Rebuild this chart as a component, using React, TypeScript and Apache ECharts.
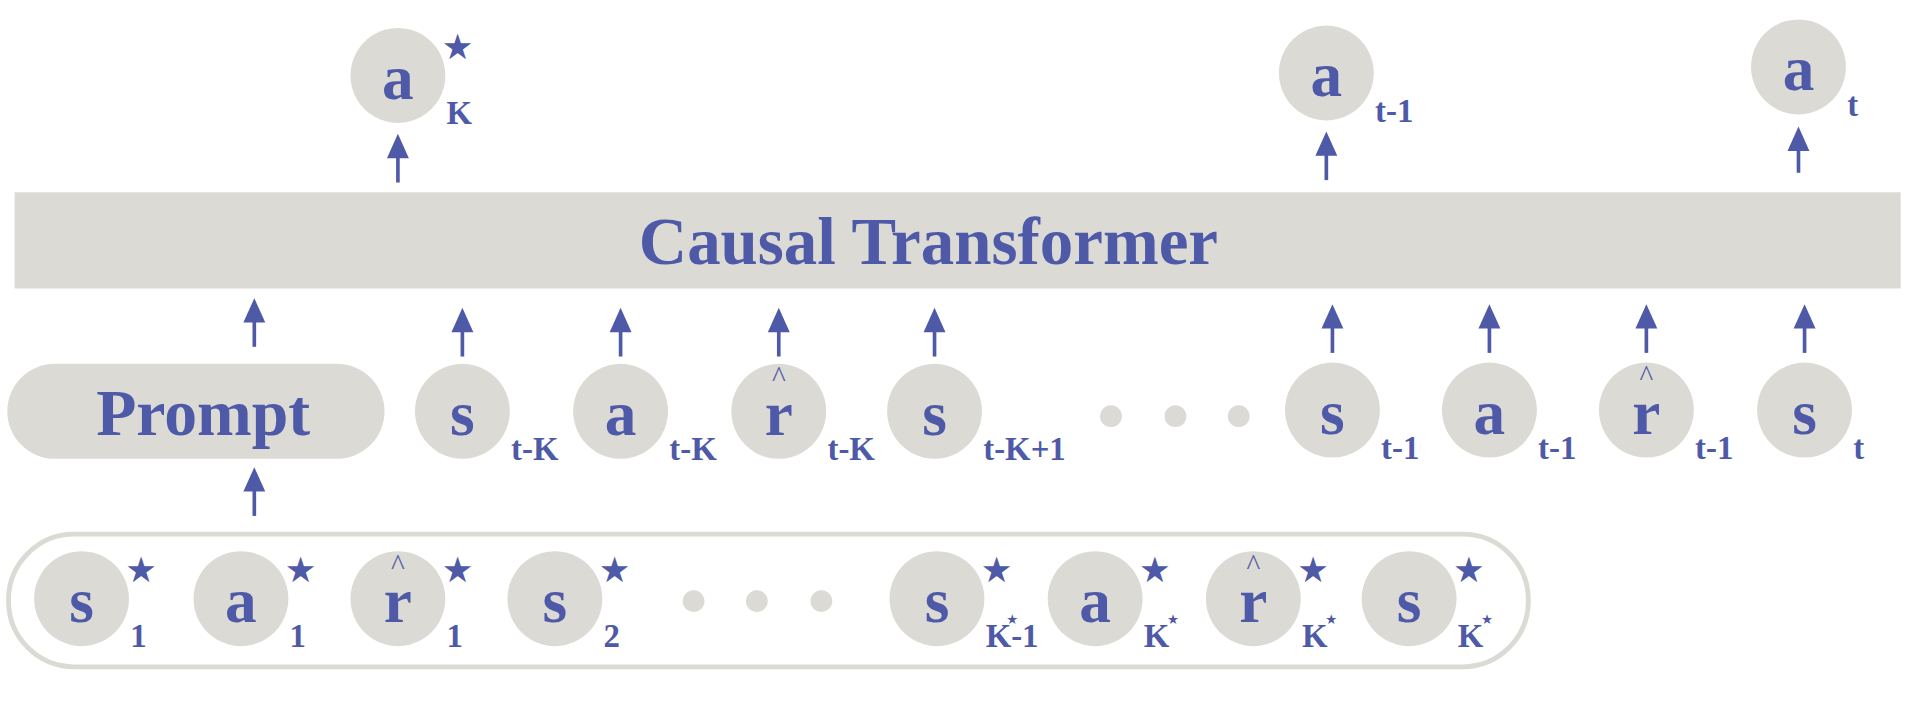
import React, { useEffect, useRef } from "react";
import * as echarts from "echarts";

const S = 1908 / 1568;
const BLUE = "#4e5aa8";
const GREY = "#dcdad4";
const FONT = "'Liberation Serif', 'Times New Roman', serif";

// tokens: [letter, subscript, x, y, star, subStar]
const outputTokens: [string, string, number, number, boolean, boolean][] = [
  ["a", "K", 327, 62, true, false],
  ["a", "t-1", 1090, 60, false, false],
  ["a", "t", 1478, 55, false, false],
];
const middleTokens: [string, string, number, number, boolean, boolean][] = [
  ["s", "t-K", 380, 338, false, false],
  ["a", "t-K", 510, 338, false, false],
  ["r", "t-K", 640, 338, false, false],
  ["s", "t-K+1", 768, 338, false, false],
  ["s", "t-1", 1095, 337, false, false],
  ["a", "t-1", 1224, 337, false, false],
  ["r", "t-1", 1353, 337, false, false],
  ["s", "t", 1483, 337, false, false],
];
const bottomTokens: [string, string, number, number, boolean, boolean][] = [
  ["s", "1", 67, 492, true, false],
  ["a", "1", 198, 492, true, false],
  ["r", "1", 327, 492, true, false],
  ["s", "2", 456, 492, true, false],
  ["s", "K-1", 770, 492, true, true],
  ["a", "K", 900, 492, true, true],
  ["r", "K", 1030, 492, true, true],
  ["s", "K", 1158, 492, true, true],
];
const dotsMid = [913, 966, 1018];
const dotsBottom = [570, 622, 675];
// arrows: [x, yBottom, yTop]
const arrows: [number, number, number][] = [
  [327, 150, 110], [1090, 148, 108], [1478, 142, 104],
  [209, 285, 245], [380, 293, 253], [510, 293, 253], [640, 293, 253], [768, 293, 253],
  [1095, 290, 250], [1224, 290, 250], [1353, 290, 250], [1483, 290, 250],
  [209, 424, 384],
];

const s = (v: number) => v * S;

function tokenEls(t: [string, string, number, number, boolean, boolean]) {
  const [letter, sub, x, y, star, subStar] = t;
  const els: any[] = [];
  els.push({ type: "circle", shape: { cx: s(x), cy: s(y), r: s(39) }, style: { fill: GREY } });
  els.push({
    type: "text", x: s(x), y: s(y + 2),
    style: { text: letter, fill: BLUE, font: `bold ${s(52)}px ${FONT}`, align: "center", verticalAlign: "middle" },
  });
  if (letter === "r") {
    els.push({
      type: "text", x: s(x), y: s(y - 28),
      style: { text: "^", fill: BLUE, font: `${s(24)}px ${FONT}`, align: "center", verticalAlign: "middle" },
    });
  }
  const subX = s(x + 40);
  els.push({
    type: "text", x: subX, y: s(y + 31),
    style: { text: sub, fill: BLUE, font: `bold ${s(27)}px ${FONT}`, align: "left", verticalAlign: "middle" },
  });
  if (subStar) {
    const w = sub === "K-1" ? 17 : 19;
    els.push({
      type: "text", x: s(x + 40 + w), y: s(y + 17),
      style: { text: "★", fill: BLUE, font: `${s(11)}px 'DejaVu Sans'`, align: "left", verticalAlign: "middle" },
    });
  }
  if (star) {
    els.push({
      type: "text", x: s(x + 36), y: s(y - 24),
      style: { text: "★", fill: BLUE, font: `${s(29)}px 'DejaVu Sans'`, align: "left", verticalAlign: "middle" },
    });
  }
  return els;
}

function arrowEls(a: [number, number, number]) {
  const [x, yb, yt] = a;
  return [
    { type: "line", shape: { x1: s(x), y1: s(yb), x2: s(x), y2: s(yt + 14) }, style: { stroke: BLUE, lineWidth: s(3) } },
    { type: "polygon", shape: { points: [[s(x), s(yt)], [s(x - 9), s(yt + 20)], [s(x + 9), s(yt + 20)]] }, style: { fill: BLUE } },
  ];
}

export default function App() {
  const ref = useRef<HTMLDivElement>(null);
  useEffect(() => {
    document.body.style.margin = "0";
    const chart = echarts.init(ref.current!, undefined, { renderer: "svg" });
    const els: any[] = [];
    els.push({ type: "rect", shape: { x: s(12), y: s(158), width: s(1550), height: s(79) }, style: { fill: GREY } });
    els.push({
      type: "text", x: s(763), y: s(198),
      style: { text: "Causal Transformer", fill: BLUE, font: `bold ${s(55)}px ${FONT}`, align: "center", verticalAlign: "middle" },
    });
    els.push({ type: "rect", shape: { x: s(6), y: s(299), width: s(310), height: s(78), r: s(39) }, style: { fill: GREY } });
    els.push({
      type: "text", x: s(167), y: s(339),
      style: { text: "Prompt", fill: BLUE, font: `bold ${s(54)}px ${FONT}`, align: "center", verticalAlign: "middle" },
    });
    els.push({
      type: "rect", shape: { x: s(7), y: s(439), width: s(1249), height: s(109), r: s(54) },
      style: { fill: "none", stroke: GREY, lineWidth: s(4) },
    });
    [...outputTokens, ...middleTokens, ...bottomTokens].forEach((t) => els.push(...tokenEls(t)));
    dotsMid.forEach((x) => els.push({ type: "circle", shape: { cx: s(x), cy: s(342), r: s(9) }, style: { fill: GREY } }));
    dotsBottom.forEach((x) => els.push({ type: "circle", shape: { cx: s(x), cy: s(494), r: s(9) }, style: { fill: GREY } }));
    arrows.forEach((a) => els.push(...arrowEls(a)));
    chart.setOption({ animation: false, graphic: { elements: els } });
    return () => chart.dispose();
  }, []);
  return <div ref={ref} style={{ width: 1908, height: 721, background: "#fff" }} />;
}
